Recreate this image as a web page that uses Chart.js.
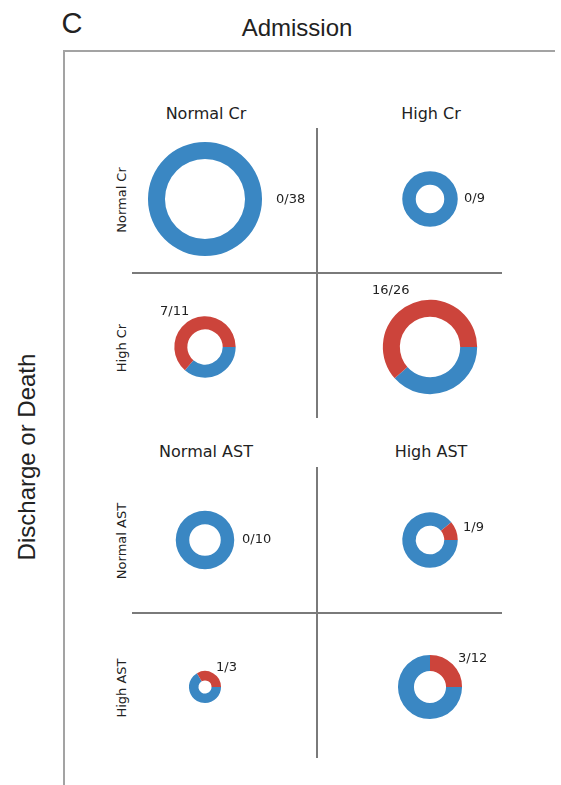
<!DOCTYPE html>
<html>
<head>
<meta charset="utf-8">
<script src="https://cdn.jsdelivr.net/npm/chart.js@4/dist/chart.umd.min.js"></script>
<style>
  body { margin: 0; background: #fff; }
  #wrap { position: relative; width: 561px; height: 785px; overflow: hidden; font-family: "DejaVu Sans", sans-serif; color: #222; }
  .txt { position: absolute; white-space: nowrap; line-height: 1; transform: translate(-50%, -50%); }
  .rot { transform: translate(-50%, -50%) rotate(-90deg); }
  .line { position: absolute; }
  canvas.donut { position: absolute; }
</style>
</head>
<body>
<div id="wrap"></div>
<script>
// admission (columns) and discharge/death (rows) levels, one pair per panel
const panelCols = [["Normal Cr", "High Cr"], ["Normal AST", "High AST"]];
const panelRows = [["Normal Cr", "High Cr"], ["Normal AST", "High AST"]];

// cells in reading order: panel 1 (row 1, row 2), then panel 2
const cellDeaths = [0, 0, 7, 16, 0, 1, 1, 3];
const cellTotals = [38, 9, 11, 26, 10, 9, 3, 12];

// layout
const colX = [205, 430];
const rowY = [199, 347, 540, 687];
const radiusScale = 9.25;           // px per sqrt(patient)
const ringWidths = [17, 13.5, 13, 17, 13.5, 13.5, 9.5, 16];
const labelOffsets = [[71, 1], [34, 0], [-45, -35], [-58, -56], [37, 0], [33, -12], [11, -19], [28, -28]];

const BLUE = "#3a87c3";
const RED = "#cc443b";

const wrap = document.getElementById("wrap");

function addText(str, x, y, size, family, rotated) {
    const d = document.createElement("div");
    d.className = "txt" + (rotated ? " rot" : "");
    d.textContent = str;
    d.style.left = x + "px";
    d.style.top = y + "px";
    d.style.fontSize = size + "px";
    if (family) d.style.fontFamily = family;
    wrap.appendChild(d);
}

function addLine(x, y, w, h, color) {
    const d = document.createElement("div");
    d.className = "line";
    d.style.left = x + "px";
    d.style.top = y + "px";
    d.style.width = w + "px";
    d.style.height = h + "px";
    d.style.background = color;
    wrap.appendChild(d);
}

// outer frame and headings
addLine(63, 50, 492, 2, "#a3a3a3");
addLine(63, 50, 2, 735, "#a3a3a3");
addText("C", 72, 23, 29, "'Liberation Sans', Arial, sans-serif");
addText("Admission", 297, 28, 24, "'Liberation Sans', Arial, sans-serif");
addText("Discharge or Death", 27, 457, 24, "'Liberation Sans', Arial, sans-serif", true);

// panel dividers
addLine(316, 128, 2, 290, "#7a7a7a");
addLine(132, 272, 370, 2, "#7a7a7a");
addLine(316, 467, 2, 291, "#7a7a7a");
addLine(132, 612, 370, 2, "#7a7a7a");

// panel titles
const titleY = [114, 452];
panelCols.forEach((cols, p) => {
    cols.forEach((name, c) => addText(name, colX[c] + 1, titleY[p], 16));
    panelRows[p].forEach((name, r) => addText(name, 121, rowY[p * 2 + r] + 1, 13, null, true));
});

const fractionLabel = {
    id: "fractionLabel",
    afterDatasetsDraw(chart, args, opts) {
        const arc = chart.getDatasetMeta(0).data[0];
        const ctx = chart.ctx;
        ctx.save();
        ctx.font = "13px 'DejaVu Sans'";
        ctx.fillStyle = "#222";
        ctx.textAlign = "left";
        ctx.textBaseline = "middle";
        ctx.fillText(opts.text, arc.x + opts.dx, arc.y + opts.dy);
        ctx.restore();
    }
};

function renderDonut(i) {
    const p = Math.floor(i / 4);
    const r = Math.floor((i % 4) / 2);
    const c = i % 2;
    const cx = colX[c];
    const cy = rowY[p * 2 + r];

    const canvas = document.createElement("canvas");
    canvas.className = "donut";
    canvas.width = 220;
    canvas.height = 150;
    canvas.style.left = (cx - 110) + "px";
    canvas.style.top = (cy - 75) + "px";
    wrap.appendChild(canvas);

    const outer = radiusScale * Math.sqrt(cellTotals[i]);
    const cutPct = (outer - ringWidths[i]) / outer * 100;

    new Chart(canvas.getContext("2d"), {
        type: "doughnut",
        data: {
            labels: ["Discharged", "Died"],
            datasets: [{
                data: [cellTotals[i] - cellDeaths[i], cellDeaths[i]],
                backgroundColor: [BLUE, RED],
                borderWidth: 0
            }]
        },
        options: {
            responsive: false,
            animation: false,
            rotation: 90,       // start at 3 o'clock like matplotlib
            radius: outer,
            cutout: cutPct + "%",
            layout: { padding: 0 },
            plugins: {
                legend: { display: false },
                tooltip: { enabled: false },
                fractionLabel: {
                    text: cellDeaths[i] + "/" + cellTotals[i],
                    dx: labelOffsets[i][0],
                    dy: labelOffsets[i][1]
                }
            }
        },
        plugins: [fractionLabel]
    });
}

cellTotals.forEach((t, i) => renderDonut(i));
</script>
</body>
</html>
